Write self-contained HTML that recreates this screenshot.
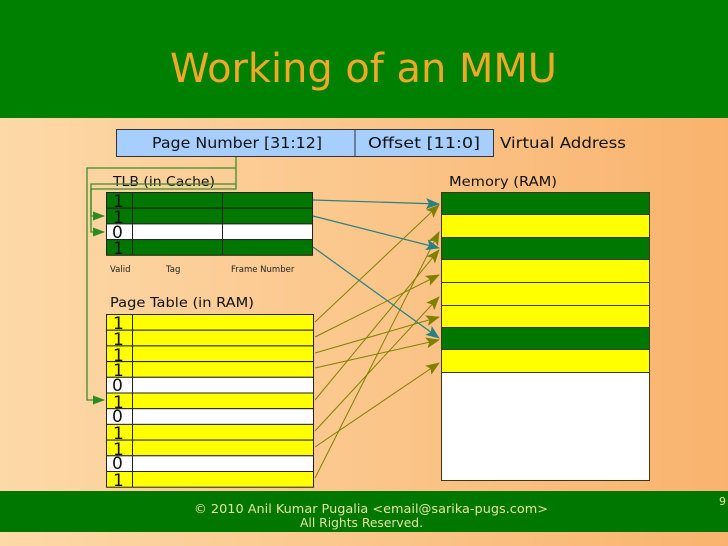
<!DOCTYPE html>
<html><head><meta charset="utf-8"><style>
html,body{margin:0;padding:0;width:728px;height:546px;overflow:hidden}
svg{display:block;font-family:"DejaVu Sans","Liberation Sans",sans-serif}
</style></head><body>
<svg width="728" height="546" viewBox="0 0 728 546" xmlns="http://www.w3.org/2000/svg">
<defs>
<linearGradient id="bg" x1="0" y1="0" x2="1" y2="0">
<stop offset="0" stop-color="#fdd9a8"/><stop offset="1" stop-color="#f9b36e"/>
</linearGradient>
<marker id="ao" markerWidth="14" markerHeight="11" refX="13" refY="5.5" orient="auto" markerUnits="userSpaceOnUse"><path d="M0,0L14,5.5L0,11L3,5.5z" fill="#808000"/></marker>
<marker id="at" markerWidth="14" markerHeight="11" refX="13" refY="5.5" orient="auto" markerUnits="userSpaceOnUse"><path d="M0,0L14,5.5L0,11L3,5.5z" fill="#2a8080"/></marker>
<marker id="ag" markerWidth="12" markerHeight="9" refX="11" refY="4.5" orient="auto" markerUnits="userSpaceOnUse"><path d="M0,0L12,4.5L0,9z" fill="#2f8a1f"/></marker>
</defs>
<rect width="728" height="546" fill="url(#bg)"/>
<rect width="728" height="118" fill="#008000"/>
<text x="170" y="82" font-size="40" fill="#f0a828" textLength="387" lengthAdjust="spacingAndGlyphs">Working of an MMU</text>

<rect x="116.5" y="129.5" width="377" height="27" fill="#a6cfff" stroke="#333"/>
<line x1="355" y1="129" x2="355" y2="157" stroke="#333"/>
<text x="152" y="148" font-size="15" fill="#111" textLength="170" lengthAdjust="spacingAndGlyphs">Page Number [31:12]</text>
<text x="368" y="148" font-size="15" fill="#111" textLength="112" lengthAdjust="spacingAndGlyphs">Offset [11:0]</text>
<text x="500" y="148" font-size="15" fill="#111" textLength="126" lengthAdjust="spacingAndGlyphs">Virtual Address</text>

<text x="113" y="186" font-size="13" fill="#111" textLength="102" lengthAdjust="spacingAndGlyphs">TLB (in Cache)</text>
<text x="449" y="186" font-size="13" fill="#111" textLength="108" lengthAdjust="spacingAndGlyphs">Memory (RAM)</text>
<text x="110" y="307" font-size="13" fill="#111" textLength="144" lengthAdjust="spacingAndGlyphs">Page Table (in RAM)</text>

<g fill="none" stroke="#3c8c28" stroke-width="1.3">
<polyline points="236,157 236,189 91,189 91,232 104,232" marker-end="url(#ag)"/>
<polyline points="236,184 91,184 91,216 104,216" marker-end="url(#ag)"/>
<polyline points="236,168 87,168 87,400 104,400" marker-end="url(#ag)"/>
</g>

<g stroke="#222" stroke-width="1">
<rect x="106.5" y="192.5" width="206" height="15.7" fill="#007800"/>
<rect x="106.5" y="208.2" width="206" height="15.7" fill="#007800"/>
<rect x="106.5" y="223.9" width="206" height="15.7" fill="#fff"/>
<rect x="106.5" y="239.6" width="206" height="15.7" fill="#007800"/>
<line x1="132.5" y1="192" x2="132.5" y2="255"/>
<line x1="222.5" y1="192" x2="222.5" y2="255"/>
</g>
<g font-size="17" fill="#111">
<text x="113" y="207">1</text><text x="113" y="223">1</text><text x="112" y="238">0</text><text x="113" y="254">1</text>
</g>
<g font-size="8.5" fill="#222">
<text x="110" y="272">Valid</text><text x="166" y="272">Tag</text><text x="231" y="272">Frame Number</text>
</g>

<g stroke="#222" stroke-width="1">
<rect x="106.5" y="314.5" width="207" height="15.7" fill="#ffff00"/>
<rect x="106.5" y="330.2" width="207" height="15.7" fill="#ffff00"/>
<rect x="106.5" y="345.9" width="207" height="15.7" fill="#ffff00"/>
<rect x="106.5" y="361.6" width="207" height="15.7" fill="#ffff00"/>
<rect x="106.5" y="377.3" width="207" height="15.7" fill="#fff"/>
<rect x="106.5" y="393.0" width="207" height="15.7" fill="#ffff00"/>
<rect x="106.5" y="408.7" width="207" height="15.7" fill="#fff"/>
<rect x="106.5" y="424.4" width="207" height="15.7" fill="#ffff00"/>
<rect x="106.5" y="440.1" width="207" height="15.7" fill="#ffff00"/>
<rect x="106.5" y="455.8" width="207" height="15.7" fill="#fff"/>
<rect x="106.5" y="471.5" width="207" height="15.7" fill="#ffff00"/>
<line x1="132.5" y1="314" x2="132.5" y2="487"/>
</g>
<g font-size="17" fill="#111">
<text x="113" y="329">1</text><text x="113" y="345">1</text><text x="113" y="361">1</text><text x="113" y="376">1</text>
<text x="112" y="391">0</text><text x="113" y="408">1</text><text x="112" y="422">0</text><text x="113" y="439">1</text>
<text x="113" y="455">1</text><text x="112" y="469">0</text><text x="113" y="486">1</text>
</g>

<g stroke="#3a3a10" stroke-width="1">
<rect x="441.5" y="192.5" width="208" height="22" fill="#007800"/>
<rect x="441.5" y="214.5" width="208" height="23" fill="#ffff00"/>
<rect x="441.5" y="237.5" width="208" height="22" fill="#007800"/>
<rect x="441.5" y="259.5" width="208" height="23" fill="#ffff00"/>
<rect x="441.5" y="282.5" width="208" height="23" fill="#ffff00"/>
<rect x="441.5" y="305.5" width="208" height="22" fill="#ffff00"/>
<rect x="441.5" y="327.5" width="208" height="22" fill="#007800"/>
<rect x="441.5" y="349.5" width="208" height="23" fill="#ffff00"/>
<rect x="441.5" y="372.5" width="208" height="108" fill="#fff"/>
</g>

<g fill="none" stroke="#808000" stroke-width="1" marker-end="url(#ao)">
<line x1="315" y1="322" x2="439" y2="205"/>
<line x1="315" y1="337" x2="439" y2="275"/>
<line x1="315" y1="353" x2="439" y2="317"/>
<line x1="315" y1="368" x2="439" y2="340"/>
<line x1="315" y1="400" x2="439" y2="250"/>
<line x1="315" y1="431" x2="439" y2="297"/>
<line x1="315" y1="447" x2="439" y2="363"/>
<line x1="315" y1="478" x2="439" y2="232"/>
</g>
<g fill="none" stroke="#2a8080" stroke-width="1.2" marker-end="url(#at)">
<line x1="313" y1="200" x2="439" y2="204"/>
<line x1="313" y1="216" x2="439" y2="248"/>
<line x1="313" y1="247" x2="439" y2="338"/>
</g>

<rect x="0" y="491" width="728" height="41" fill="#007800"/>
<text x="194" y="513" font-size="12.5" fill="#e4e4a8" textLength="354" lengthAdjust="spacingAndGlyphs">© 2010 Anil Kumar Pugalia &lt;email@sarika-pugs.com&gt;</text>
<text x="300" y="527" font-size="12.5" fill="#e4e4a8" textLength="123" lengthAdjust="spacingAndGlyphs">All Rights Reserved.</text>
<text x="719" y="505" font-size="11" fill="#e4e4a8">9</text>
</svg>
</body></html>
